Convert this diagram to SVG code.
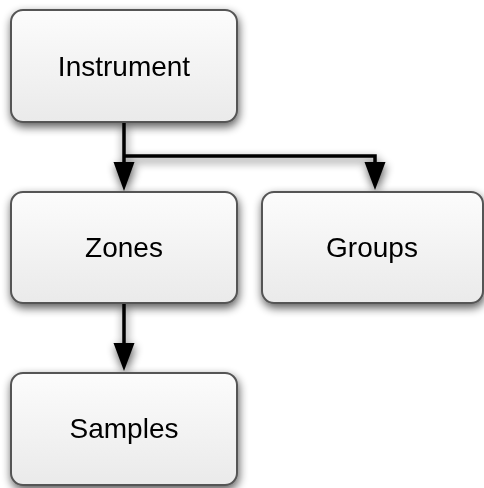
<svg xmlns="http://www.w3.org/2000/svg" width="484" height="488" viewBox="0 0 484 488">
  <defs>
    <linearGradient id="boxFill" x1="0" y1="0" x2="0" y2="1">
      <stop offset="0" stop-color="#fcfcfc"/>
      <stop offset="1" stop-color="#eaeaea"/>
    </linearGradient>
    <filter id="dropShadow" x="-20%" y="-20%" width="140%" height="150%">
      <feGaussianBlur in="SourceAlpha" stdDeviation="5"/>
      <feOffset dx="1" dy="4" result="blur"/>
      <feComponentTransfer>
        <feFuncA type="linear" slope="0.65"/>
      </feComponentTransfer>
      <feMerge>
        <feMergeNode/>
        <feMergeNode in="SourceGraphic"/>
      </feMerge>
    </filter>
  </defs>
  <style>
    .box { fill: url(#boxFill); stroke: #555; stroke-width: 2; }
    .label { font-family: "Liberation Sans", Arial, Helvetica, sans-serif; font-size: 28px; fill: #000; text-anchor: middle; }
    .edge { fill: none; stroke: #000; stroke-width: 3.5; }
    .head { fill: #000; }
  </style>

  <g id="connectors" filter="url(#dropShadow)">
    <polyline class="edge" points="124,122 124,170"/>
    <path class="head" d="M113.5,162 L134.5,162 L124,191 Z"/>
    <polyline class="edge" points="124,156 375,156 375,170"/>
    <path class="head" d="M364.5,162 L385.5,162 L375,190 Z"/>
    <polyline class="edge" points="124,303 124,350"/>
    <path class="head" d="M113.5,343 L134.5,343 L124,371 Z"/>
  </g>

  <g id="instrument" filter="url(#dropShadow)">
    <rect class="box" x="11" y="10" width="226" height="112" rx="12"/>
    <text class="label" x="124" y="76">Instrument</text>
  </g>

  <g id="zones" filter="url(#dropShadow)">
    <rect class="box" x="11" y="192" width="226" height="111" rx="12"/>
    <text class="label" x="124" y="257">Zones</text>
  </g>

  <g id="groups" filter="url(#dropShadow)">
    <rect class="box" x="262" y="192" width="221" height="111" rx="12"/>
    <text class="label" x="372" y="257">Groups</text>
  </g>

  <g id="samples" filter="url(#dropShadow)">
    <rect class="box" x="11" y="373" width="226" height="112" rx="12"/>
    <text class="label" x="124" y="438">Samples</text>
  </g>
</svg>
